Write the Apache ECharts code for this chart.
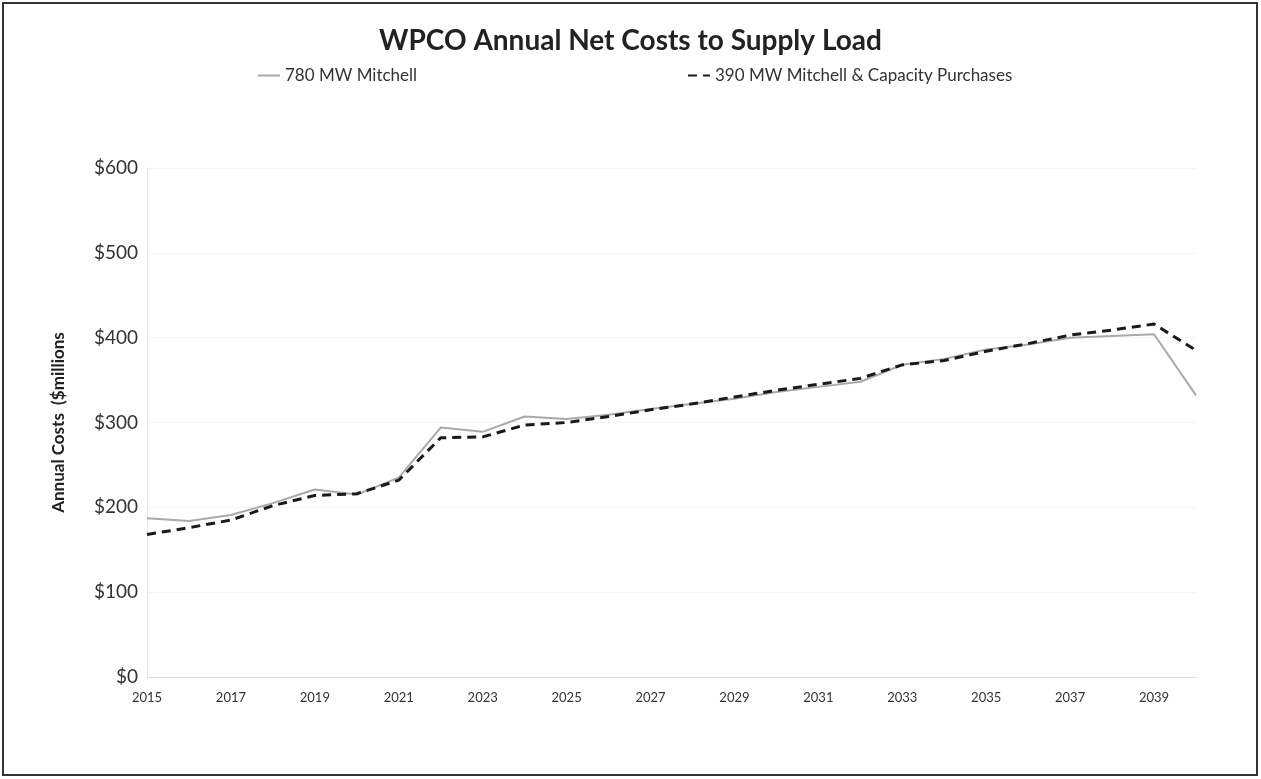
<!DOCTYPE html>
<html><head><meta charset="utf-8">
<script src="https://cdn.jsdelivr.net/npm/echarts@6/dist/echarts.min.js"></script>
<style>html,body{margin:0;padding:0;background:#fff}#c{width:1261px;height:779px}</style>
</head><body><div id="c"></div>
<script>
const years = ['2015','2016','2017','2018','2019','2020','2021','2022','2023','2024','2025','2026','2027','2028','2029','2030','2031','2032','2033','2034','2035','2036','2037','2038','2039','2040'];
const mitchell780 = [187,184,191,205,221,215,235,294,289,307,304,309,316,322,328,336,342,348,368,375,386,392,400,402,404,332];
const mitchell390 = [168,176,185,202,214,216,232,282,283,297,300,307,315,322,330,338,345,352,368,373,384,393,403,409,416,385];
const yTicks = [0,100,200,300,400,500,600];
const seriesNames = ['780 MW Mitchell','390 MW Mitchell & Capacity Purchases'];

const font = 'Lato, "Open Sans", sans-serif';
const chart = echarts.init(document.getElementById('c'));
chart.setOption({
  animation:false,
  backgroundColor:'#fff',
  title:{text:'WPCO Annual Net Costs to Supply Load',left:'center',top:22,
    textStyle:{fontFamily:font,fontSize:28,fontWeight:'bold',color:'#222'}},
  legend:[
    {data:[seriesNames[0]],left:252,top:62,itemWidth:22,itemHeight:10,itemGap:6,
     itemStyle:{opacity:0},
     textStyle:{fontFamily:font,fontSize:17,color:'#333'}},
    {data:[seriesNames[1]],left:682,top:62,itemWidth:22,itemHeight:10,
     itemStyle:{opacity:0},
     textStyle:{fontFamily:font,fontSize:17,color:'#333'}}
  ],
  graphic:[{type:'rect',shape:{x:3,y:3,width:1254,height:772},style:{fill:'none',stroke:'#333',lineWidth:2},silent:true}],
  grid:{left:147,right:65,top:168,bottom:102,containLabel:false},
  xAxis:{type:'category',data:years,boundaryGap:false,
    axisLine:{lineStyle:{color:'#ddd'}},axisTick:{show:false},
    axisLabel:{interval:1,fontFamily:font,fontSize:13,color:'#333',margin:14},
    splitLine:{show:false}},
  yAxis:{type:'value',min:yTicks[0],max:yTicks[yTicks.length-1],interval:100,
    name:'Annual Costs  ($millions',nameLocation:'middle',nameGap:80,nameRotate:90,
    nameTextStyle:{fontFamily:font,fontSize:17,fontWeight:'bold',color:'#222'},
    axisLine:{show:true,lineStyle:{color:'#e6e6e6'}},axisTick:{show:false},
    axisLabel:{fontFamily:font,fontSize:19,color:'#333',margin:9,formatter:v=>'$'+v},
    splitLine:{lineStyle:{color:'#f6f6f6'}}},
  series:[
    {name:seriesNames[0],type:'line',data:mitchell780,symbol:'none',
     lineStyle:{color:'#a9a9a9',width:2},itemStyle:{color:'#a9a9a9'}},
    {name:seriesNames[1],type:'line',data:mitchell390,symbol:'none',
     lineStyle:{color:'#1a1a1a',width:3,type:[9,6]},itemStyle:{color:'#1a1a1a'}}
  ]
});
</script></body></html>
